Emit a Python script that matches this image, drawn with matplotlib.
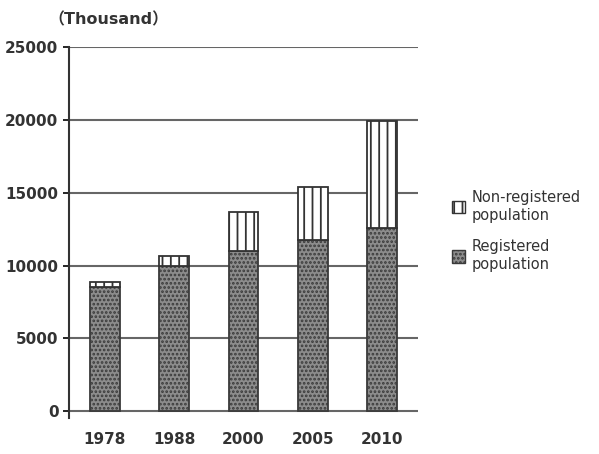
import matplotlib
matplotlib.use("Agg")
import matplotlib.pyplot as plt
from matplotlib.patches import Patch

plt.rcParams['font.family'] = ['DejaVu Sans']
plt.rcParams['hatch.linewidth'] = 1.3

years = ["1978", "1988", "2000", "2005", "2010"]
registered = [8500, 10000, 11000, 11750, 12600]
non_registered = [400, 650, 2700, 3650, 7300]

fig = plt.figure(figsize=(5.99, 4.54), dpi=100)
ax = fig.add_axes([0.115, 0.079, 0.583, 0.817])

x = range(len(years))
ax.bar(x, registered, width=0.43, color="#8c8c8c", edgecolor="#3a3a3a",
       hatch="....", linewidth=1.3, zorder=3)
ax.bar(x, non_registered, bottom=registered, width=0.43, color="white",
       edgecolor="#333333", hatch="||", linewidth=1.3, zorder=3)

ax.set_xlim(-0.52, 4.52)
ax.set_ylim(-480, 25000)
ax.set_yticks(range(0, 25001, 5000))
ax.set_xticks(list(x))
ax.set_xticklabels(years)
ax.yaxis.grid(True, color="#666666", linewidth=1.5, zorder=0)
ax.tick_params(axis="x", length=0, pad=10, labelsize=11, labelcolor="#333333")
ax.tick_params(axis="y", length=4, width=1.2, labelsize=11, labelcolor="#333333")
for lbl in ax.get_xticklabels() + ax.get_yticklabels():
    lbl.set_fontweight("bold")
for s in ["top", "right", "bottom"]:
    ax.spines[s].set_visible(False)
ax.spines["left"].set_linewidth(1.5)
ax.spines["left"].set_color("#333333")

fig.text(0.08, 0.957, "（Thousand）", fontsize=11.5, fontweight="bold", color="#333333",
         family=["DejaVu Sans", "Noto Sans CJK JP"], va="center")

handles = [Patch(facecolor="white", edgecolor="#333333", hatch="||"),
           Patch(facecolor="#8c8c8c", edgecolor="#3a3a3a", hatch="....")]
fig.legend(handles, ["Non-registered\npopulation", "Registered\npopulation"],
           loc="upper left", bbox_to_anchor=(0.732, 0.61), frameon=False,
           handlelength=0.9, handleheight=0.9, labelspacing=1.15, handletextpad=0.5,
           prop={"size": 10.5}, labelcolor="#333333")

fig.savefig("out.png", dpi=100)
